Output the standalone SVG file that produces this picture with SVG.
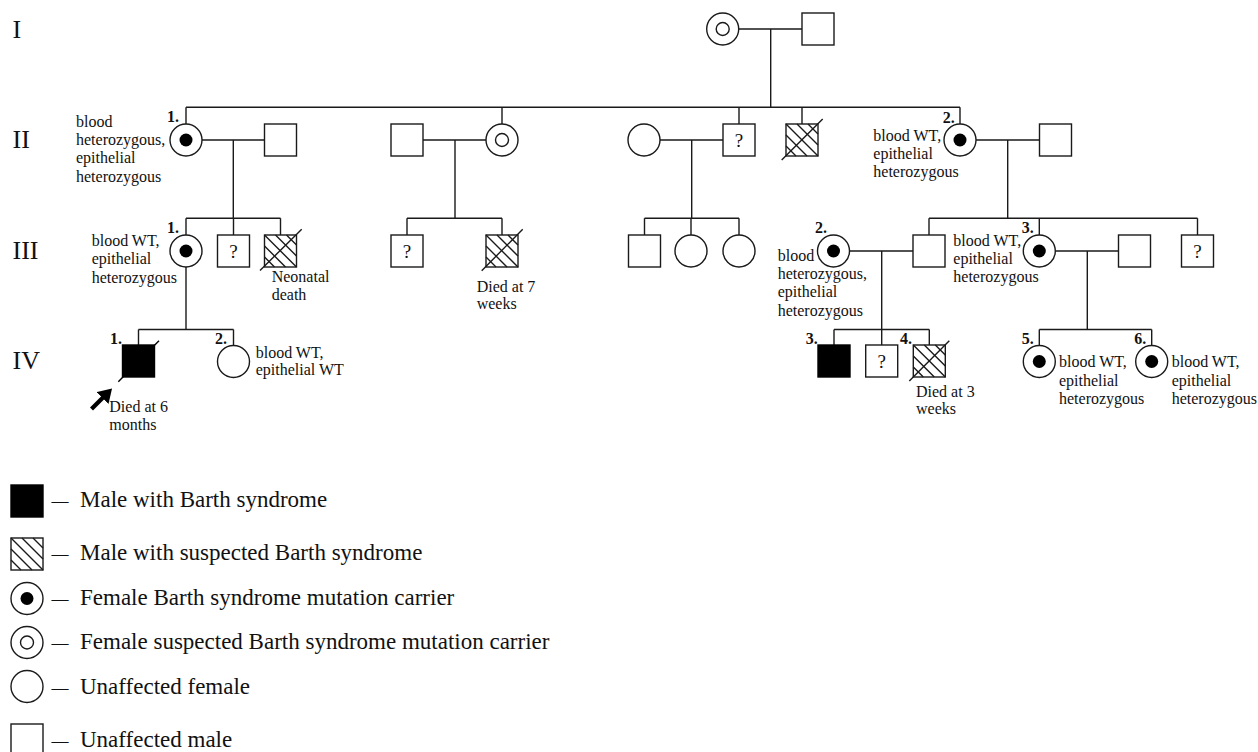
<svg xmlns="http://www.w3.org/2000/svg" xmlns:xlink="http://www.w3.org/1999/xlink" width="1258" height="752" viewBox="0 0 1258 752">
<style>
.ln{stroke:#1a1a1a;stroke-width:1.4;fill:none}
.sym{fill:#fff;stroke:#1a1a1a;stroke-width:1.4}
.aff{fill:#000;stroke:#000;stroke-width:1.4}
.t{font-family:"Liberation Serif","Times New Roman",serif;font-size:16px;fill:#111}
.num{font-weight:bold}
.gen{font-size:26px}
.leg{font-size:23px}
.dash{font-size:17px}
.q{font-size:19px;text-anchor:middle}
</style>
<defs>
<g id="hsq"><rect width="32" height="32" class="sym"/><path d="M0 0L32 32M11 0L32 21M22 0L32 10M0 11L21 32M0 22L10 32" class="ln"/></g>
<g id="car"><circle r="16" class="sym"/><circle r="6.5" fill="#000"/></g>
<g id="sus"><circle r="16" class="sym"/><circle r="6.5" class="sym"/></g>
<marker id="ah" markerWidth="4" markerHeight="4" refX="1" refY="2" orient="auto" markerUnits="strokeWidth"><path d="M0 0L3.2 2L0 4Z" fill="#000"/></marker>
</defs>
<rect width="1258" height="752" fill="#fff"/>

<g id="gen-labels" class="t gen">
<text x="12.5" y="38">I</text>
<text x="12.5" y="148">II</text>
<text x="12.5" y="259">III</text>
<text x="12.5" y="369">IV</text>
</g>

<g id="connectors" class="ln">
<path d="M739 29H802M770.7 29V107.3"/>
<path d="M186 107.3H960M186 107.3V124M502 107.3V124M739 107.3V124M802 107.3V124M960 107.3V124"/>
<path d="M202 140H264.5M233.3 140V218.3M423 140H486M455 140V218.3M660 140H723M691.7 140V218.3M976 140H1039.5M1007.7 140V218.3"/>
<path d="M186 218.3H280.5M186 218.3V235M233.5 218.3V235M280.5 218.3V235"/>
<path d="M407 218.3H502M407 218.3V235M502 218.3V235"/>
<path d="M644.5 218.3H739M644.5 218.3V235M691 218.3V235M739 218.3V235"/>
<path d="M929 218.3H1197.5M929 218.3V235M1039.3 218.3V235M1197.5 218.3V235"/>
<path d="M849.5 251H913M881.7 251V329.5M1055.3 251H1118.5M1087.3 251V329.5M186 267V329.5"/>
<path d="M138.5 329.5H233.5M138.5 329.5V345M233.5 329.5V345.5"/>
<path d="M834 329.5H929.3M834 329.5V345M881.7 329.5V345M929.3 329.5V345"/>
<path d="M1039.3 329.5H1151.7M1039.3 329.5V345.5M1151.7 329.5V345.5"/>
</g>

<g id="I-1"><use xlink:href="#sus" x="722.7" y="29"/></g>
<g id="I-2"><rect x="802" y="13" width="32" height="32" class="sym"/></g>

<g id="II-1"><use xlink:href="#car" x="186" y="140"/>
<text class="t num" x="167" y="122">1.</text>
<text class="t" x="76" y="126.7">blood</text><text class="t" x="76" y="145">heterozygous,</text><text class="t" x="76" y="163.3">epithelial</text><text class="t" x="76" y="181.6">heterozygous</text></g>
<g id="II-1-spouse"><rect x="264.5" y="124" width="32" height="32" class="sym"/></g>
<g id="II-spouse-b"><rect x="391" y="124" width="32" height="32" class="sym"/></g>
<g id="II-sus"><use xlink:href="#sus" x="502" y="140"/></g>
<g id="II-spouse-c"><circle cx="644" cy="140" r="16" class="sym"/></g>
<g id="II-q"><rect x="723" y="124" width="32" height="32" class="sym"/><text class="t q" x="739" y="147">?</text></g>
<g id="II-hatched"><use xlink:href="#hsq" x="786" y="124"/><path d="M781.7 160L822.7 119" class="ln"/></g>
<g id="II-2"><use xlink:href="#car" x="960" y="140"/>
<text class="t num" x="942.7" y="123">2.</text>
<text class="t" x="873.3" y="140.5">blood WT,</text><text class="t" x="873.3" y="158.8">epithelial</text><text class="t" x="873.3" y="177.1">heterozygous</text></g>
<g id="II-2-spouse"><rect x="1039.5" y="124" width="32" height="32" class="sym"/></g>

<g id="III-1"><use xlink:href="#car" x="186" y="251"/>
<text class="t num" x="167" y="233">1.</text>
<text class="t" x="91.7" y="246">blood WT,</text><text class="t" x="91.7" y="264.3">epithelial</text><text class="t" x="91.7" y="282.6">heterozygous</text></g>
<g id="III-q1"><rect x="217.5" y="235" width="32" height="32" class="sym"/><text class="t q" x="233.5" y="258">?</text></g>
<g id="III-hatched1"><use xlink:href="#hsq" x="264.5" y="235"/><path d="M260 270.5L301.7 229.3" class="ln"/>
<text class="t" x="271.7" y="282">Neonatal</text><text class="t" x="271.7" y="299.5">death</text></g>
<g id="III-q2"><rect x="391" y="235" width="32" height="32" class="sym"/><text class="t q" x="407" y="258">?</text></g>
<g id="III-hatched2"><use xlink:href="#hsq" x="486" y="235"/><path d="M481.7 270.7L522.7 229.3" class="ln"/>
<text class="t" x="476.7" y="291.5">Died at 7</text><text class="t" x="476.7" y="309">weeks</text></g>
<g id="III-m3"><rect x="628.5" y="235" width="32" height="32" class="sym"/></g>
<g id="III-f3a"><circle cx="691" cy="251" r="16" class="sym"/></g>
<g id="III-f3b"><circle cx="739" cy="251" r="16" class="sym"/></g>
<g id="III-2"><use xlink:href="#car" x="833.5" y="251"/>
<text class="t num" x="815" y="233">2.</text>
<text class="t" x="777.7" y="260.5">blood</text><text class="t" x="777.7" y="279">heterozygous,</text><text class="t" x="777.7" y="297.3">epithelial</text><text class="t" x="777.7" y="315.5">heterozygous</text></g>
<g id="III-m4"><rect x="913" y="235" width="32" height="32" class="sym"/></g>
<g id="III-3"><use xlink:href="#car" x="1039.3" y="251"/>
<text class="t num" x="1021.7" y="233">3.</text>
<text class="t" x="953.3" y="245.5">blood WT,</text><text class="t" x="953.3" y="263.8">epithelial</text><text class="t" x="953.3" y="282.1">heterozygous</text></g>
<g id="III-3-spouse"><rect x="1118.5" y="235" width="32" height="32" class="sym"/></g>
<g id="III-q3"><rect x="1181.5" y="235" width="32" height="32" class="sym"/><text class="t q" x="1197.5" y="258">?</text></g>

<g id="IV-1"><rect x="122.5" y="345" width="32" height="32" class="aff"/><path d="M118.3 381.7L159 340.7" stroke="#000" stroke-width="1.4"/>
<text class="t num" x="110" y="344">1.</text>
<path d="M91.5 409L105.5 395" stroke="#000" stroke-width="4.2" marker-end="url(#ah)"/>
<text class="t" x="109.3" y="412.3">Died at 6</text><text class="t" x="109.3" y="429.5">months</text></g>
<g id="IV-2"><circle cx="233.5" cy="361.5" r="16" class="sym"/>
<text class="t num" x="215" y="344">2.</text>
<text class="t" x="255.7" y="357.5">blood WT,</text><text class="t" x="255.7" y="375">epithelial WT</text></g>
<g id="IV-3"><rect x="818" y="345" width="32" height="32" class="aff"/><text class="t num" x="805.7" y="344">3.</text></g>
<g id="IV-q"><rect x="865.7" y="345" width="32" height="32" class="sym"/><text class="t q" x="881.7" y="368">?</text></g>
<g id="IV-4"><use xlink:href="#hsq" x="913.3" y="345"/><path d="M909.3 381L949.3 340.7" class="ln"/>
<text class="t num" x="900" y="344">4.</text>
<text class="t" x="916" y="397">Died at 3</text><text class="t" x="916" y="414.3">weeks</text></g>
<g id="IV-5"><use xlink:href="#car" x="1039.3" y="361.5"/>
<text class="t num" x="1021.7" y="344">5.</text>
<text class="t" x="1059" y="367.3">blood WT,</text><text class="t" x="1059" y="385.6">epithelial</text><text class="t" x="1059" y="403.9">heterozygous</text></g>
<g id="IV-6"><use xlink:href="#car" x="1151.7" y="361.5"/>
<text class="t num" x="1134.3" y="344">6.</text>
<text class="t" x="1171.7" y="367.3">blood WT,</text><text class="t" x="1171.7" y="385.6">epithelial</text><text class="t" x="1171.7" y="403.9">heterozygous</text></g>

<g id="legend">
<rect x="11" y="485" width="32" height="32" class="aff"/>
<text class="t dash" x="51.5" y="506">—</text><text class="t leg" x="80" y="507.3">Male with Barth syndrome</text>
<use xlink:href="#hsq" x="11" y="538"/>
<text class="t dash" x="51.5" y="559">—</text><text class="t leg" x="80" y="560">Male with suspected Barth syndrome</text>
<use xlink:href="#car" x="27" y="598.5"/>
<text class="t dash" x="51.5" y="603.5">—</text><text class="t leg" x="80" y="604.5">Female Barth syndrome mutation carrier</text>
<use xlink:href="#sus" x="27" y="642.5"/>
<text class="t dash" x="51.5" y="648">—</text><text class="t leg" x="80" y="649.3">Female suspected Barth syndrome mutation carrier</text>
<circle cx="27" cy="686.5" r="16" class="sym"/>
<text class="t dash" x="51.5" y="692.5">—</text><text class="t leg" x="80" y="693.8">Unaffected female</text>
<rect x="11" y="724" width="32" height="32" class="sym"/>
<text class="t dash" x="51.5" y="745.5">—</text><text class="t leg" x="80" y="746.7">Unaffected male</text>
</g>
</svg>
